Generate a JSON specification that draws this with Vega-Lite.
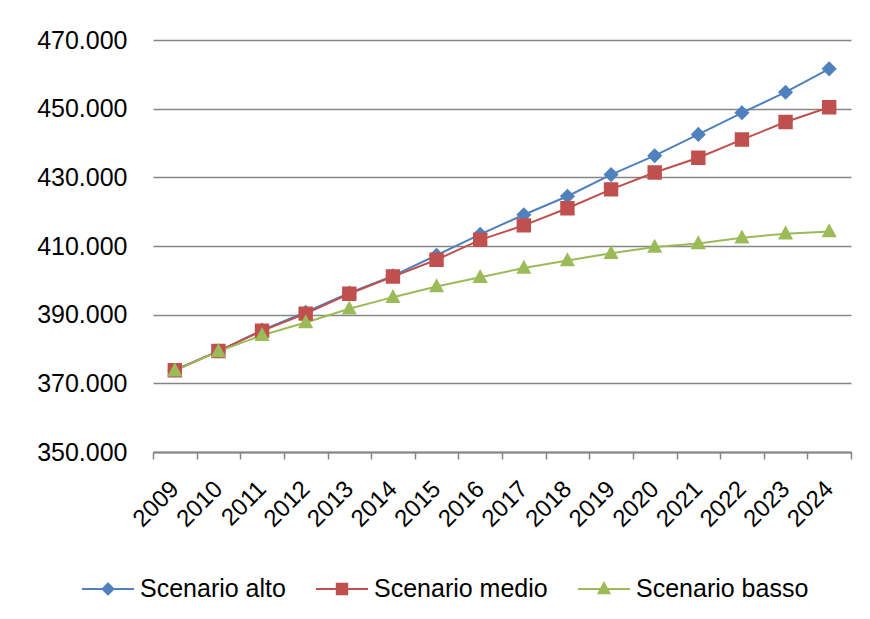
{
  "$schema": "https://vega.github.io/schema/vega-lite/v6.json",
  "autosize": "none",
  "width": 698,
  "height": 412,
  "padding": {"left": 153, "top": 40, "right": 19, "bottom": 167},
  "background": "white",
  "config": {
    "font": "Liberation Sans",
    "view": {"stroke": null}
  },
  "data": {
    "values": [
      {"anno": "2009", "scenario": "Scenario alto", "valore": 373800},
      {"anno": "2010", "scenario": "Scenario alto", "valore": 379400},
      {"anno": "2011", "scenario": "Scenario alto", "valore": 385500},
      {"anno": "2012", "scenario": "Scenario alto", "valore": 390700},
      {"anno": "2013", "scenario": "Scenario alto", "valore": 396300},
      {"anno": "2014", "scenario": "Scenario alto", "valore": 401300},
      {"anno": "2015", "scenario": "Scenario alto", "valore": 407300},
      {"anno": "2016", "scenario": "Scenario alto", "valore": 413400},
      {"anno": "2017", "scenario": "Scenario alto", "valore": 419100},
      {"anno": "2018", "scenario": "Scenario alto", "valore": 424500},
      {"anno": "2019", "scenario": "Scenario alto", "valore": 430800},
      {"anno": "2020", "scenario": "Scenario alto", "valore": 436300},
      {"anno": "2021", "scenario": "Scenario alto", "valore": 442500},
      {"anno": "2022", "scenario": "Scenario alto", "valore": 448800},
      {"anno": "2023", "scenario": "Scenario alto", "valore": 454800},
      {"anno": "2024", "scenario": "Scenario alto", "valore": 461600},
      {"anno": "2009", "scenario": "Scenario medio", "valore": 373800},
      {"anno": "2010", "scenario": "Scenario medio", "valore": 379400},
      {"anno": "2011", "scenario": "Scenario medio", "valore": 385300},
      {"anno": "2012", "scenario": "Scenario medio", "valore": 390300},
      {"anno": "2013", "scenario": "Scenario medio", "valore": 396100},
      {"anno": "2014", "scenario": "Scenario medio", "valore": 401100},
      {"anno": "2015", "scenario": "Scenario medio", "valore": 406000},
      {"anno": "2016", "scenario": "Scenario medio", "valore": 411800},
      {"anno": "2017", "scenario": "Scenario medio", "valore": 416000},
      {"anno": "2018", "scenario": "Scenario medio", "valore": 421000},
      {"anno": "2019", "scenario": "Scenario medio", "valore": 426500},
      {"anno": "2020", "scenario": "Scenario medio", "valore": 431400},
      {"anno": "2021", "scenario": "Scenario medio", "valore": 435700},
      {"anno": "2022", "scenario": "Scenario medio", "valore": 441000},
      {"anno": "2023", "scenario": "Scenario medio", "valore": 446100},
      {"anno": "2024", "scenario": "Scenario medio", "valore": 450400},
      {"anno": "2009", "scenario": "Scenario basso", "valore": 373700},
      {"anno": "2010", "scenario": "Scenario basso", "valore": 379300},
      {"anno": "2011", "scenario": "Scenario basso", "valore": 384000},
      {"anno": "2012", "scenario": "Scenario basso", "valore": 387700},
      {"anno": "2013", "scenario": "Scenario basso", "valore": 391700},
      {"anno": "2014", "scenario": "Scenario basso", "valore": 395100},
      {"anno": "2015", "scenario": "Scenario basso", "valore": 398200},
      {"anno": "2016", "scenario": "Scenario basso", "valore": 400900},
      {"anno": "2017", "scenario": "Scenario basso", "valore": 403600},
      {"anno": "2018", "scenario": "Scenario basso", "valore": 405800},
      {"anno": "2019", "scenario": "Scenario basso", "valore": 407900},
      {"anno": "2020", "scenario": "Scenario basso", "valore": 409700},
      {"anno": "2021", "scenario": "Scenario basso", "valore": 410700},
      {"anno": "2022", "scenario": "Scenario basso", "valore": 412400},
      {"anno": "2023", "scenario": "Scenario basso", "valore": 413600},
      {"anno": "2024", "scenario": "Scenario basso", "valore": 414200}
    ]
  },
  "encoding": {
    "x": {
      "field": "anno",
      "type": "ordinal",
      "title": null,
      "scale": {"type": "band", "paddingInner": 0, "paddingOuter": 0},
      "axis": {
        "labelAngle": -45,
        "labelAlign": "right",
        "labelBaseline": "middle",
        "labelFontSize": 24,
        "labelColor": "#000000",
        "labelPadding": 26,
        "domainColor": "#868686",
        "domainWidth": 2,
        "ticks": true,
        "tickBand": "extent",
        "tickSize": 7,
        "tickColor": "#868686",
        "tickWidth": 1.5,
        "grid": false
      }
    },
    "y": {
      "field": "valore",
      "type": "quantitative",
      "title": null,
      "scale": {"domain": [350000, 470000], "nice": false, "zero": false},
      "axis": {
        "values": [350000, 370000, 390000, 410000, 430000, 450000, 470000],
        "labelExpr": "replace(format(datum.value, ','), ',', '.')",
        "labelFontSize": 25,
        "labelColor": "#000000",
        "labelPadding": 26,
        "ticks": false,
        "tickSize": 0,
        "domain": false,
        "grid": true,
        "gridColor": "#868686",
        "gridWidth": 1.5
      }
    },
    "color": {
      "field": "scenario",
      "type": "nominal",
      "scale": {
        "domain": ["Scenario alto", "Scenario medio", "Scenario basso"],
        "range": ["#4F81BD", "#C0504D", "#9BBB59"]
      },
      "legend": {
        "title": null,
        "orient": "none",
        "direction": "horizontal",
        "columns": 3,
        "legendX": -72,
        "legendY": 522,
        "symbolSize": 2704,
        "symbolStrokeWidth": 2,
        "labelFontSize": 25,
        "labelColor": "#000000",
        "labelOffset": 5,
        "labelLimit": 0,
        "columnPadding": 26,
        "padding": 0,
        "encode": {
          "symbols": {
            "update": {
              "stroke": {"scale": "color", "field": "value"},
              "strokeWidth": {"value": 2},
              "fill": {"scale": "color", "field": "value"},
              "opacity": {"value": 1}
            }
          }
        }
      }
    }
  },
  "layer": [
    {
      "mark": {"type": "line", "strokeWidth": 2}
    },
    {
      "mark": {"type": "point", "filled": true, "opacity": 1, "size": 5184, "strokeWidth": 0},
      "encoding": {
        "shape": {
          "field": "scenario",
          "type": "nominal",
          "scale": {
            "domain": ["Scenario alto", "Scenario medio", "Scenario basso"],
            "range": [
              "M-1,0H1M0,-0.21L0.21,0L0,0.21L-0.21,0Z",
              "M-1,0H1M-0.2,-0.2H0.2V0.2H-0.2Z",
              "M-1,0H1M0,-0.23L0.21,0.16H-0.21Z"
            ]
          },
          "legend": {
            "title": null,
            "orient": "none",
            "direction": "horizontal",
            "columns": 3,
            "legendX": -72,
            "legendY": 522,
            "symbolSize": 2704,
            "symbolStrokeWidth": 2,
            "labelFontSize": 25,
            "labelColor": "#000000",
            "labelOffset": 5,
            "labelLimit": 0,
            "columnPadding": 26,
            "padding": 0,
            "encode": {
              "symbols": {
                "update": {
                  "stroke": {"scale": "color", "field": "value"},
                  "strokeWidth": {"value": 2},
                  "fill": {"scale": "color", "field": "value"},
                  "opacity": {"value": 1}
                }
              }
            }
          }
        }
      }
    }
  ]
}
